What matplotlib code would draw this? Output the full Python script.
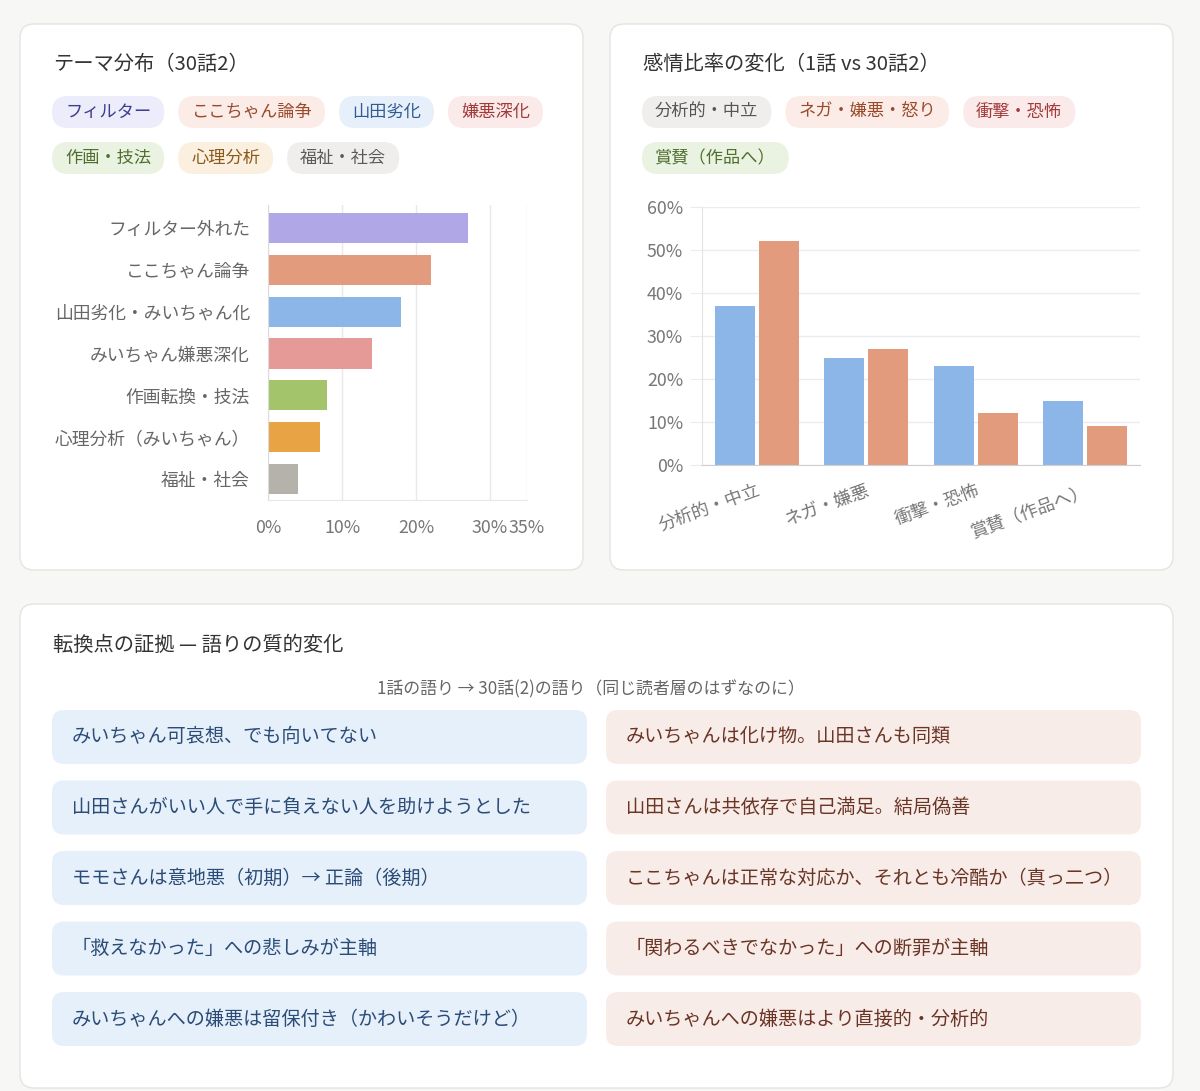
import matplotlib
matplotlib.use("Agg")
import matplotlib.pyplot as plt
from matplotlib.patches import FancyBboxPatch
from matplotlib.ticker import FuncFormatter
import numpy as np

plt.rcParams['font.family'] = ['Noto Sans CJK JP', 'DejaVu Sans']

# --- data ---
theme_labels = ['フィルター外れた', 'ここちゃん論争', '山田劣化・みいちゃん化', 'みいちゃん嫌悪深化',
                '作画転換・技法', '心理分析（みいちゃん）', '福祉・社会']
theme_values = [27, 22, 18, 14, 8, 7, 4]
theme_colors = ['#b0a8e6', '#e39b7e', '#8db6e8', '#e59a98', '#a3c46a', '#e8a345', '#b5b2ac']

theme_chips = [
    [('フィルター', '#ececfa', '#3d3d8f'), ('ここちゃん論争', '#fbece8', '#9a4a2a'),
     ('山田劣化', '#e7f0fa', '#2f5d93'), ('嫌悪深化', '#fbeaea', '#a33a3a')],
    [('作画・技法', '#eaf3e1', '#4f6f2f'), ('心理分析', '#fbf0e0', '#8a5a1a'),
     ('福祉・社会', '#efeeec', '#5a5a58')],
]

emotion_cats = ['分析的・中立', 'ネガ・嫌悪', '衝撃・恐怖', '賞賛（作品へ）']
ep1_values = [37, 25, 23, 15]
ep30_values = [52, 27, 12, 9]

emotion_chips = [
    [('分析的・中立', '#efeeec', '#555553'), ('ネガ・嫌悪・怒り', '#fbece8', '#9a4a2a'),
     ('衝撃・恐怖', '#fbeaea', '#a33a3a')],
    [('賞賛（作品へ）', '#eaf3e1', '#4f6f2f')],
]

before_quotes = ['みいちゃん可哀想、でも向いてない',
                 '山田さんがいい人で手に負えない人を助けようとした',
                 'モモさんは意地悪（初期）→ 正論（後期）',
                 '「救えなかった」への悲しみが主軸',
                 'みいちゃんへの嫌悪は留保付き（かわいそうだけど）']
after_quotes = ['みいちゃんは化け物。山田さんも同類',
                '山田さんは共依存で自己満足。結局偽善',
                'ここちゃんは正常な対応か、それとも冷酷か（真っ二つ）',
                '「関わるべきでなかった」への断罪が主軸',
                'みいちゃんへの嫌悪はより直接的・分析的']

W, H = 1200, 1091
fig = plt.figure(figsize=(W / 100, H / 100), dpi=100)
fig.patch.set_facecolor('#f7f7f5')

bg = fig.add_axes([0, 0, 1, 1])
bg.set_xlim(0, W)
bg.set_ylim(H, 0)
bg.axis('off')
renderer = fig.canvas.get_renderer()


def rbox(x, y, w, h, r, fc, ec='none', lw=0):
    bg.add_patch(FancyBboxPatch((x, y), w, h, boxstyle=f"round,pad=0,rounding_size={r}",
                                fc=fc, ec=ec, lw=lw))


def chips(rows, x0, ys):
    for row, y in zip(rows, ys):
        x = x0
        for label, fc, tc in row:
            t = bg.text(x + 13, y, label, va='center', ha='left', fontsize=12.4, color=tc)
            w = t.get_window_extent(renderer).width + 26
            rbox(x, y - 16, w, 32, 16, fc)
            x += w + 14


def px_axes(left, top, right, bottom):
    return fig.add_axes([left / W, 1 - bottom / H, (right - left) / W, (bottom - top) / H])


# cards
rbox(20, 24, 563, 546, 14, 'white', ec='#e4e4e1', lw=1)
rbox(610, 24, 563, 546, 14, 'white', ec='#e4e4e1', lw=1)
rbox(20, 604, 1153, 484, 14, 'white', ec='#e4e4e1', lw=1)

bg.text(53, 65, 'テーマ分布（30話2）', fontsize=14.6, color='#333333', va='center')
bg.text(643, 65, '感情比率の変化（1話 vs 30話2）', fontsize=14.6, color='#333333', va='center')
chips(theme_chips, 52, [112, 158])
chips(emotion_chips, 642, [112, 158])

# theme chart
ax1 = px_axes(268, 205, 527, 500)
ax1.set_facecolor('none')
yy = np.arange(len(theme_values))
ax1.barh(yy, theme_values, height=0.72, color=theme_colors, zorder=2)
ax1.set_ylim(6.5, -0.55)
ax1.set_xlim(0, 35)
ax1.set_xticks([0, 10, 20, 30, 35])
ax1.xaxis.set_major_formatter(FuncFormatter(lambda v, p: f'{v:.0f}%'))
ax1.set_yticks(yy, theme_labels)
ax1.tick_params(axis='y', length=0, pad=13, labelsize=12.8, labelcolor='#666666')
ax1.tick_params(axis='x', length=0, pad=14, labelsize=12.8, labelcolor='#777777')
ax1.grid(axis='x', color='#e8e8e8', lw=1, zorder=0)
for s in ['top', 'right']:
    ax1.spines[s].set_visible(False)
ax1.spines['left'].set_color('#dcdcdc')
ax1.spines['bottom'].set_color('#e8e8e8')

# emotion chart
ax2 = px_axes(702, 207, 1140, 465)
ax2.set_facecolor('none')
xx = np.arange(len(emotion_cats))
ax2.bar(xx - 0.2, ep1_values, 0.364, color='#8db6e8', zorder=2)
ax2.bar(xx + 0.2, ep30_values, 0.364, color='#e39b7e', zorder=2)
ax2.set_xlim(-0.5, 3.5)
ax2.set_ylim(0, 60)
ax2.set_yticks(range(0, 61, 10))
ax2.yaxis.set_major_formatter(FuncFormatter(lambda v, p: f'{v:.0f}%'))
ax2.set_xticks(xx, emotion_cats, rotation=20, ha='right', rotation_mode='anchor')
ax2.tick_params(axis='y', length=8.5, color='#ececec', pad=5, labelsize=12.8, labelcolor='#777777')
ax2.tick_params(axis='x', length=0, pad=12, labelsize=12.8, labelcolor='#777777')
ax2.grid(axis='y', color='#ececec', lw=1, zorder=0)
for s in ['top', 'right']:
    ax2.spines[s].set_visible(False)
ax2.spines['left'].set_color('#e3e3e3')
ax2.spines['bottom'].set_color('#cfcfcf')

# bottom card
bg.text(53, 645, '転換点の証拠 — 語りの質的変化', fontsize=14.6, color='#333333', va='center')
bg.text(591, 689, '1話の語り → 30話(2)の語り（同じ読者層のはずなのに）', fontsize=12.2,
        color='#666666', va='center', ha='center')
for i, (b, a) in enumerate(zip(before_quotes, after_quotes)):
    y = 710 + i * 70.5
    rbox(52, y, 535, 54, 12, '#e6f0fa')
    rbox(606, y, 535, 54, 12, '#f8ece9')
    bg.text(72, y + 27, b, fontsize=13.8, color='#2c4c78', va='center')
    bg.text(626, y + 27, a, fontsize=13.8, color='#6b3526', va='center')

fig.savefig('out.png', dpi=100, facecolor=fig.get_facecolor())
